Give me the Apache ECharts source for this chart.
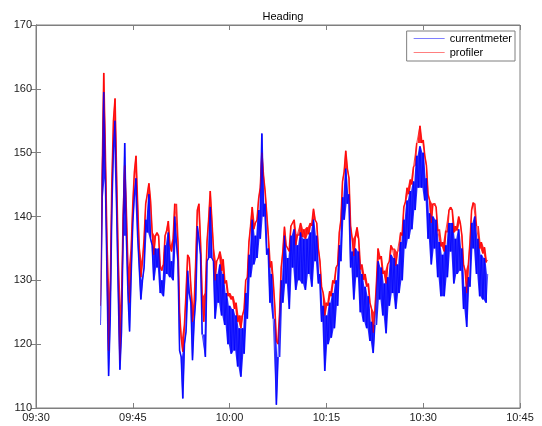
<!DOCTYPE html>
<html>
<head>
<meta charset="utf-8">
<script src="https://cdn.jsdelivr.net/npm/echarts@6/dist/echarts.min.js"></script>
<style>html,body{margin:0;padding:0;background:#fff}#c{width:542px;height:426px}</style>
</head>
<body>
<div id="c"></div>
<script>
// Time axis in minutes after 09:30
var xTickLabels = ['09:30', '09:45', '10:00', '10:15', '10:30', '10:45'];
var yTicks = [110, 120, 130, 140, 150, 160, 170];
var seriesNames = ['currentmeter', 'profiler'];
// samples start at 09:40 (minute 10) and are read every 0.25 min
var startMinute = 10;
var stepMinutes = 0.25;

// profiler heading (red), 4 readings per minute, 09:40 .. 10:40
var profiler = [
  126, 146, 162.5, 150,
  136, 119, 128, 145,
  155, 158.5, 146, 133,
  117.5, 126, 140, 148,
  141, 132, 126.5, 135,
  142, 147, 149.5, 142,
  135, 130.5, 133, 136.5,
  142, 143.5, 145.2, 142.5,
  137.5, 134, 137, 137.5,
  137, 132, 131.5, 132.5,
  137, 137.8, 139.3, 135.5,
  134.5, 136.5, 142, 142,
  136, 125, 121, 118.8,
  123, 128, 134, 133.5,
  129, 123.5, 126, 133,
  141, 142, 136, 127.5,
  123.5, 128, 136, 139.5,
  144, 139.5, 135, 130,
  133, 133.5, 134.5, 131.5,
  133.3, 129.5, 130, 127.5,
  128, 127, 127.5, 125.5,
  126.5, 123.5, 124.5, 122.5,
  124.5, 125.5, 130, 130.5,
  136, 138.5, 141.5, 138,
  139, 139.5, 142.8, 144.5,
  150, 146.5, 144, 140.5,
  137, 132, 133, 130,
  126, 120.5, 120, 125,
  132, 134.5, 138.4, 135.5,
  135, 134.5, 138.5, 139,
  139.5, 135.5, 137.2, 137,
  139, 136.8, 138, 136.5,
  138.3, 137.2, 139, 138.5,
  141.2, 139.5, 139, 135,
  133, 129, 128, 124.5,
  126.5, 126, 128.3, 127.5,
  130, 129.5, 132, 132.5,
  137.5, 139.5, 145.5, 147,
  150.3, 147.5, 146, 138.5,
  136.5, 133.8, 137, 138.3,
  136.5, 131.7, 132.5, 130.1,
  131, 129, 129.5, 126.5,
  125.5, 121.8, 125, 129.5,
  135, 133.3, 133.8, 131,
  131.5, 129.5, 132.5, 133,
  135.5, 134.8, 135, 132.3,
  134.5, 134.5, 137.5, 137,
  141.5, 142.3, 144.5, 143.5,
  145.8, 145, 147.8, 148,
  151.5, 151.5, 154.2, 151.5,
  152, 149.5, 148, 143.5,
  142.5, 139, 142, 142.1,
  141.5, 137.7, 138, 135.3,
  136, 134.5, 137.8, 137.5,
  141, 141.5, 141, 137.5,
  138.5, 137.8, 140, 139,
  137, 132.5, 131.5, 128,
  132.5, 136, 141, 142.2,
  142, 138.5, 138.5, 135,
  136, 134.2, 135.2, 132.8,
  133.2
];

// currentmeter heading (blue), same sampling
var currentmeter = [
  123, 143, 159.5, 146,
  131, 115, 124, 141,
  151, 155, 141, 128,
  116, 122, 137, 151.5,
  137, 128, 122, 131,
  139, 143.5, 146, 137,
  132, 127, 130, 132,
  139.5, 137.5, 143.5, 136.5,
  135.5, 130, 135, 132,
  135, 128, 130, 127.5,
  135.5, 131, 137.5, 130.5,
  133, 130, 140, 136,
  133, 119, 118, 111.5,
  120, 122, 131.5, 128,
  126.5, 117.5, 123.5, 127,
  138.5, 136.5, 134, 121.5,
  121.5, 118, 133, 133.5,
  141.5, 133.5, 133, 124,
  131, 126.5, 132.5, 124.5,
  131, 123, 128, 120,
  126, 118.5, 125.5, 119,
  124.5, 116.5, 122.5, 114.9,
  122.5, 118.5, 128, 124,
  134, 130.5, 139.5, 132.5,
  137, 133.5, 141, 136.5,
  153, 140, 142, 134,
  135, 126.5, 131, 124,
  124, 110.5, 118, 118,
  130, 126.5, 137, 129.5,
  133.5, 125.5, 137, 132,
  138, 128.5, 135.5, 130,
  137.5, 129.5, 136.5, 128.5,
  136.5, 131, 137.5, 129,
  139.5, 133, 137, 129.5,
  131, 123.5, 126, 115.8,
  124.5, 120, 126.5, 121,
  128, 122.5, 130, 126,
  135.5, 133, 143, 139.5,
  147.5, 142, 143.5, 132,
  134.5, 127, 135, 130.5,
  134.5, 125, 131, 123.5,
  129, 122.5, 127.5, 120.5,
  123.5, 118.6, 123, 123,
  133, 127, 132, 124.5,
  129.5, 121.7, 130.5, 126,
  134, 128, 133.5, 125.5,
  132.5, 128, 136, 130,
  139.5, 135, 142.5, 136.5,
  144, 138, 145.5, 141,
  149.5, 144.5, 151, 144.5,
  150, 142.5, 146, 136.5,
  140.5, 132.5, 140, 135,
  139.5, 130.5, 136, 127.5,
  134, 127.5, 135.5, 130.5,
  139, 134.5, 139, 129.5,
  136.5, 131, 138, 131.5,
  135, 125.5, 129, 122.7,
  130.5, 129, 139, 135,
  140, 131, 136.5, 127.5,
  134, 127, 133.5, 126.5,
  131
];

function toPairs(vals) {
  var out = [];
  for (var i = 0; i < vals.length; i++) out.push([startMinute + i * stepMinutes, vals[i]]);
  return out;
}
// range swept between consecutive readings -> rows [x, lo, hi]
function bandRows(vals) {
  var rows = [];
  for (var i = 0; i + 1 < vals.length; i++) {
    rows.push([startMinute + (i + 0.5) * stepMinutes,
               Math.min(vals[i], vals[i + 1]), Math.max(vals[i], vals[i + 1])]);
  }
  return rows;
}

var axisGray = '#7f7f7f';
var font = 'Liberation Sans, Arial, sans-serif';
// whole band drawn as one polygon (upper edge, then lower edge back)
function bandSeries(name, vals, color, opacity) {
  return {
    name: name + ' band', type: 'custom', data: bandRows(vals), silent: true, clip: true,
    encode: {x: 0, y: [1, 2]},
    renderItem: function (params, api) {
      if (params.dataIndexInside !== 0) return null;
      var n = params.dataInsideLength;
      var pts = [], j;
      for (j = 0; j < n; j++) pts.push(api.coord([api.value(0, j), api.value(2, j)]));
      for (j = n - 1; j >= 0; j--) pts.push(api.coord([api.value(0, j), api.value(1, j)]));
      return {type: 'polygon', shape: {points: pts},
              style: {fill: color, opacity: opacity}};
    }
  };
}
function lineSeries(name, vals, color, width) {
  return {
    name: name, type: 'line', data: toPairs(vals),
    showSymbol: false, symbol: 'none', sampling: null,
    lineStyle: {color: color, width: width}, itemStyle: {color: color}
  };
}

var chart = echarts.init(document.getElementById('c'), null, {renderer: 'canvas'});
chart.setOption({
  animation: false,
  backgroundColor: '#ffffff',
  title: {
    text: 'Heading', left: 278, top: 6, textAlign: 'center',
    textStyle: {fontFamily: font, fontSize: 11, fontWeight: 'normal', color: '#000'}
  },
  grid: {left: 36, right: 22, top: 25, bottom: 18, containLabel: false,
         show: true, borderColor: axisGray, borderWidth: 1, backgroundColor: '#fff'},
  legend: {
    orient: 'vertical', right: 27, top: 31,
    data: [
      {name: seriesNames[0], itemStyle: {color: '#7f7fff'}},
      {name: seriesNames[1], itemStyle: {color: '#ff7f7f'}}
    ],
    icon: 'rect', itemWidth: 31, itemHeight: 1, itemGap: 1,
    padding: [1, 3, 2, 7],
    backgroundColor: '#fff', borderColor: axisGray, borderWidth: 1,
    textStyle: {fontFamily: font, fontSize: 11, color: '#000', lineHeight: 13}
  },
  xAxis: [{
    type: 'value', min: 0, max: 75, interval: 15, position: 'bottom',
    axisLine: {show: true, lineStyle: {color: axisGray}},
    axisTick: {show: true, inside: true, length: 5, lineStyle: {color: axisGray}},
    splitLine: {show: false},
    axisLabel: {fontFamily: font, fontSize: 11, color: '#222', margin: 4,
      formatter: function (v) { return xTickLabels[Math.round(v / 15)]; }}
  }, {
    type: 'value', min: 0, max: 75, interval: 15, position: 'top',
    axisLine: {show: true, lineStyle: {color: axisGray}},
    axisTick: {show: true, inside: true, length: 5, lineStyle: {color: axisGray}},
    splitLine: {show: false}, axisLabel: {show: false}
  }],
  yAxis: [{
    type: 'value', min: yTicks[0], max: yTicks[yTicks.length - 1], interval: 10, position: 'left',
    axisLine: {show: true, lineStyle: {color: axisGray}},
    axisTick: {show: true, inside: true, length: 5, lineStyle: {color: axisGray}},
    splitLine: {show: false},
    axisLabel: {fontFamily: font, fontSize: 11, color: '#222', margin: 4}
  }, {
    type: 'value', min: yTicks[0], max: yTicks[yTicks.length - 1], interval: 10, position: 'right',
    axisLine: {show: true, lineStyle: {color: axisGray}},
    axisTick: {show: true, inside: true, length: 5, lineStyle: {color: axisGray}},
    splitLine: {show: false}, axisLabel: {show: false}
  }],
  series: [
    bandSeries(seriesNames[1], profiler, '#ff0000', 0.85),
    lineSeries(seriesNames[1], profiler, '#ff0000', 0.7),
    bandSeries(seriesNames[0], currentmeter, '#0000ff', 0.85),
    lineSeries(seriesNames[0], currentmeter, '#0000ff', 0.7)
  ]
});
</script>
</body>
</html>
